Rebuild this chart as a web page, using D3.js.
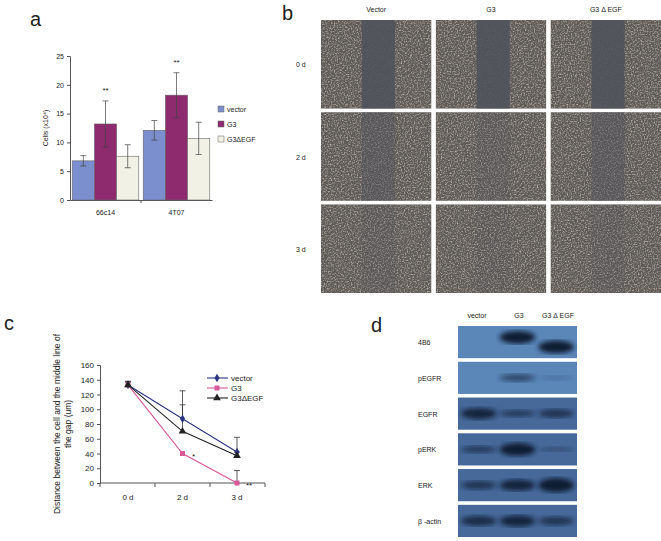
<!DOCTYPE html>
<html><head><meta charset="utf-8">
<script src="https://cdn.jsdelivr.net/npm/d3@7"></script>
<style>body{margin:0;background:#fff}text{font-family:Arial,"Liberation Sans",sans-serif;fill:#222}</style>
</head><body>
<svg width="661" height="541"></svg>
<script>
// panel a
var groupsA = ["66c14", "4T07"];
var seriesA = ["vector", "G3", "G3\u0394EGF"];
var valuesA = [[6.8, 13.2, 7.6], [12.1, 18.2, 10.7]];
var errA = [[0.9, 4.0, 2.0], [1.7, 3.9, 2.8]];
var colorsA = ["#7b8fcf", "#8e2a6e", "#f1f1e6"];
var ticksA = [0, 5, 10, 15, 20, 25];

// panel c
var daysC = ["0 d", "2 d", "3 d"];
var seriesC = ["vector", "G3", "G3\u0394EGF"];
var valuesC = [[133, 87, 42], [133, 40, 0], [133, 70, 37]];
var errC = [[5, 38, 20], [4, 0, 17], [4, 36, 5]];
var colorsC = ["#2a3680", "#d8589a", "#222"];
var ticksC = [0, 20, 40, 60, 80, 100, 120, 140, 160];

// panel b / d labels
var colsB = ["Vector", "G3", "G3 \u0394 EGF"];
var rowsB = ["0 d", "2 d", "3 d"];
var gapB = [1.0, 0.5, 0.25]; // relative visibility of the wound gap
var lanesD = ["vector", "G3", "G3 \u0394 EGF"];
var blotsD = ["4B6", "pEGFR", "EGFR", "pERK", "ERK", "\u03b2 -actin"];
var bandsD = [[0, 0.9, 0.9], [0, 0.5, 0.1], [0.8, 0.5, 0.6], [0.5, 0.9, 0.3], [0.6, 0.8, 1.0], [0.7, 0.8, 0.6]];

var svg = d3.select("svg");
var defs = svg.append("defs");
var f = defs.append("filter").attr("id", "grain").attr("x", 0).attr("y", 0).attr("width", 1).attr("height", 1);
f.append("feTurbulence").attr("type", "fractalNoise").attr("baseFrequency", 0.7).attr("numOctaves", 2).attr("result", "n");
f.append("feColorMatrix").attr("in", "n").attr("type", "matrix")
  .attr("values", "0 0 0 0 0.78  0 0 0 0 0.70  0 0 0 0 0.62  1.6 0 0 0 -0.7").attr("result", "c");
f.append("feComposite").attr("in", "c").attr("in2", "SourceGraphic").attr("operator", "in");
var blur = defs.append("filter").attr("id", "blur");
blur.append("feGaussianBlur").attr("stdDeviation", 2.5);

// ---- a ----
var ga = svg.append("g");
ga.append("text").attr("x", 30).attr("y", 26).attr("font-size", 20).text("a");
var xa = d3.scaleBand().domain(groupsA).range([70, 212]);
var xs = d3.scaleBand().domain(seriesA).range([0, xa.bandwidth()]).paddingInner(0).paddingOuter(0.1);
var ya = d3.scaleLinear().domain([0, 25]).range([200, 56]);
ga.append("g").attr("transform", "translate(70,0)")
  .call(d3.axisLeft(ya).tickValues(ticksA).tickSize(3))
  .call(function(g) { g.selectAll("text").attr("font-size", 7); g.selectAll("path,line").attr("stroke", "#555"); });
ga.append("g").attr("transform", "translate(0,200)")
  .call(d3.axisBottom(xa).tickSize(0).tickPadding(10))
  .call(function(g) { g.selectAll("text").attr("font-size", 7); g.select("path").attr("stroke", "#555"); });
ga.append("line").attr("x1", 141).attr("x2", 141).attr("y1", 200).attr("y2", 203).attr("stroke", "#555");
ga.append("text").attr("transform", "translate(48,128) rotate(-90)").attr("text-anchor", "middle").attr("font-size", 7).text("Cells (x10\u2074)");
groupsA.forEach(function(gname, i) {
  seriesA.forEach(function(s, j) {
    var v = valuesA[i][j], e = errA[i][j], x0 = xa(gname) + xs(s);
    ga.append("rect").attr("x", x0).attr("y", ya(v)).attr("width", xs.bandwidth()).attr("height", ya(0) - ya(v))
      .attr("fill", colorsA[j]).attr("stroke", "#666").attr("stroke-width", 0.6);
    var cx = x0 + xs.bandwidth() / 2;
    ga.append("line").attr("x1", cx).attr("x2", cx).attr("y1", ya(v + e)).attr("y2", ya(v - e)).attr("stroke", "#444").attr("stroke-width", 0.7);
    [v + e, v - e].forEach(function(t) {
      ga.append("line").attr("x1", cx - 3).attr("x2", cx + 3).attr("y1", ya(t)).attr("y2", ya(t)).attr("stroke", "#444").attr("stroke-width", 0.7);
    });
    if (j === 1) ga.append("text").attr("x", cx).attr("y", ya(v + e) - 8).attr("text-anchor", "middle").attr("font-size", 8).text("**");
  });
});
seriesA.forEach(function(s, j) {
  var y = 112 + j * 15;
  ga.append("rect").attr("x", 218).attr("y", y - 6).attr("width", 6).attr("height", 6).attr("fill", colorsA[j]).attr("stroke", "#666").attr("stroke-width", 0.5);
  ga.append("text").attr("x", 227).attr("y", y).attr("font-size", 7).text(s);
});

// ---- b ----
var gb = svg.append("g");
gb.append("text").attr("x", 282).attr("y", 20).attr("font-size", 20).text("b");
var xb = d3.scaleBand().domain(colsB).range([321, 661]).paddingInner(0.04);
var yb = d3.scaleBand().domain(rowsB).range([20, 293]).paddingInner(0.04);
colsB.forEach(function(c) {
  gb.append("text").attr("x", xb(c) + xb.bandwidth() / 2).attr("y", 12).attr("text-anchor", "middle").attr("font-size", 7).text(c);
});
rowsB.forEach(function(r, ri) {
  gb.append("text").attr("x", 296).attr("y", yb(r) + yb.bandwidth() / 2 + 3).attr("font-size", 7).text(r);
  colsB.forEach(function(c, ci) {
    var x0 = xb(c), y0 = yb(r), w = xb.bandwidth(), h = yb.bandwidth();
    var cell = gb.append("g");
    cell.append("rect").attr("x", x0).attr("y", y0).attr("width", w).attr("height", h).attr("fill", "#5e5a57");
    cell.append("rect").attr("x", x0).attr("y", y0).attr("width", w).attr("height", h).attr("fill", "#000")
      .attr("filter", "url(#grain)");
    var o = gapB[ri] * (ci === 1 && ri > 0 ? 0.5 : 1);
    cell.append("rect").attr("x", x0 + w * 0.37).attr("y", y0).attr("width", w * 0.3).attr("height", h)
      .attr("fill", "#4f535b").attr("opacity", o * 0.9);
  });
});

// ---- c ----
var gc = svg.append("g");
gc.append("text").attr("x", 4).attr("y", 330).attr("font-size", 20).text("c");
var xc = d3.scalePoint().domain(daysC).range([128, 237]);
var yc = d3.scaleLinear().domain([0, 160]).range([483, 365]);
gc.append("g").attr("transform", "translate(100,0)")
  .call(d3.axisLeft(yc).tickValues(ticksC).tickSize(3))
  .call(function(g) { g.selectAll("text").attr("font-size", 8).attr("font-family", "Liberation Serif, serif"); g.selectAll("path,line").attr("stroke", "#555"); });
gc.append("line").attr("x1", 100).attr("x2", 265).attr("y1", 483).attr("y2", 483).attr("stroke", "#555");
[100, 155, 210, 265].forEach(function(t) {
  gc.append("line").attr("x1", t).attr("x2", t).attr("y1", 483).attr("y2", 487).attr("stroke", "#555");
});
daysC.forEach(function(d) {
  gc.append("text").attr("x", xc(d)).attr("y", 500).attr("text-anchor", "middle").attr("font-size", 8).attr("font-family", "Liberation Serif, serif").text(d);
});
gc.append("text").attr("transform", "translate(60,424) rotate(-90)").attr("text-anchor", "middle").attr("font-size", 8.5).attr("font-family", "Liberation Serif, serif").text("Distance between the cell and the middle line of");
gc.append("text").attr("transform", "translate(71,424) rotate(-90)").attr("text-anchor", "middle").attr("font-size", 8.5).attr("font-family", "Liberation Serif, serif").text("the gap (um)");
var line = d3.line().x(function(d, i) { return xc(daysC[i]); }).y(function(d) { return yc(d); });
seriesC.forEach(function(s, j) {
  gc.append("path").attr("d", line(valuesC[j])).attr("fill", "none").attr("stroke", colorsC[j]).attr("stroke-width", 1.1);
  valuesC[j].forEach(function(v, i) {
    var cx = xc(daysC[i]), e = errC[j][i];
    if (e > 0) {
      gc.append("line").attr("x1", cx).attr("x2", cx).attr("y1", yc(v)).attr("y2", yc(v + e)).attr("stroke", "#333").attr("stroke-width", 0.8);
      gc.append("line").attr("x1", cx - 3).attr("x2", cx + 3).attr("y1", yc(v + e)).attr("y2", yc(v + e)).attr("stroke", "#333").attr("stroke-width", 0.8);
    }
  });
});
function marker(g, j, x, y) {
  if (j === 0) g.append("path").attr("d", d3.symbol(d3.symbolDiamond, 22)()).attr("transform", "translate(" + x + "," + y + ")").attr("fill", colorsC[0]);
  else if (j === 1) g.append("rect").attr("x", x - 2.5).attr("y", y - 2.5).attr("width", 5).attr("height", 5).attr("fill", colorsC[1]);
  else g.append("path").attr("d", d3.symbol(d3.symbolTriangle, 26)()).attr("transform", "translate(" + x + "," + y + ")").attr("fill", colorsC[2]);
}
seriesC.forEach(function(s, j) {
  valuesC[j].forEach(function(v, i) { marker(gc, j, xc(daysC[i]), yc(v)); });
  var ly = 378 + j * 10;
  gc.append("line").attr("x1", 207).attr("x2", 228).attr("y1", ly).attr("y2", ly).attr("stroke", colorsC[j]).attr("stroke-width", 1.1);
  marker(gc, j, 217, ly);
  gc.append("text").attr("x", 231).attr("y", ly + 3).attr("font-size", 8).attr("font-family", "Liberation Serif, serif").text(s);
});
gc.append("text").attr("x", 192).attr("y", yc(40) + 5).attr("font-size", 8).text("*");
gc.append("text").attr("x", 246).attr("y", yc(0) + 5).attr("font-size", 8).text("**");

// ---- d ----
var gd = svg.append("g");
gd.append("text").attr("x", 371).attr("y", 332).attr("font-size", 20).text("d");
var xd = d3.scaleBand().domain(lanesD).range([458, 577]).padding(0.08);
var yd = d3.scaleBand().domain(blotsD).range([326, 537]).paddingInner(0.1);
var lx = { "vector": 477, "G3": 519, "G3 \u0394 EGF": 558 };
lanesD.forEach(function(l) {
  gd.append("text").attr("x", lx[l]).attr("y", 318).attr("text-anchor", "middle").attr("font-size", 7).text(l);
});
blotsD.forEach(function(b, bi) {
  var y0 = yd(b), h = yd.bandwidth();
  gd.append("text").attr("x", 418).attr("y", y0 + h / 2 + 3).attr("font-size", 7).text(b);
  gd.append("rect").attr("x", 458).attr("y", y0).attr("width", 119).attr("height", h).attr("fill", bi < 2 ? "#5b86b8" : "#47699a");
  lanesD.forEach(function(l, li) {
    var s = bandsD[bi][li];
    if (s <= 0) return;
    var cy = bi === 0 ? y0 + h * (li === 1 ? 0.35 : 0.65) : y0 + h / 2;
    gd.append("ellipse").attr("cx", xd(l) + xd.bandwidth() / 2).attr("cy", cy)
      .attr("rx", xd.bandwidth() / 2).attr("ry", Math.max(2, h * 0.22 * s))
      .attr("fill", "#101a30").attr("opacity", Math.min(1, s + 0.1)).attr("filter", "url(#blur)");
  });
});
</script>
</body></html>
